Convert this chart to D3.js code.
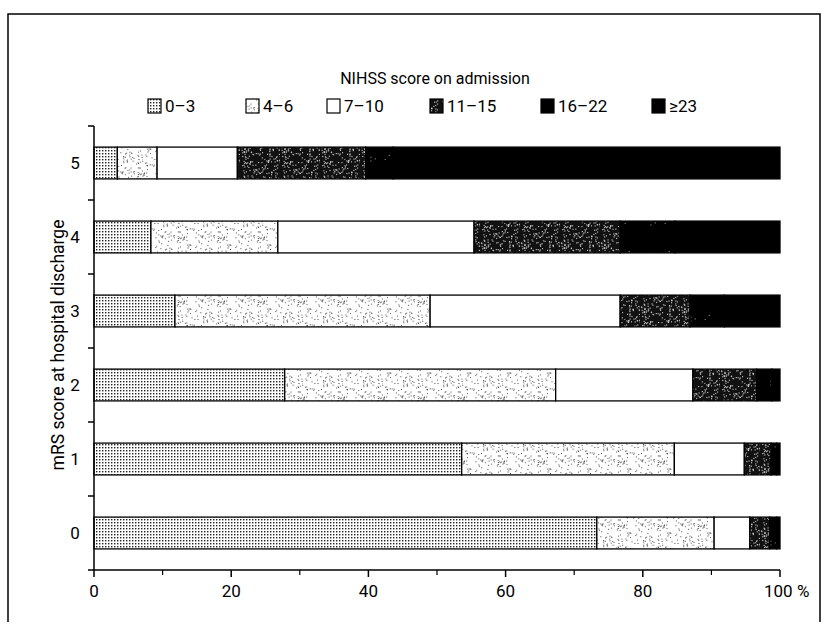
<!DOCTYPE html>
<html><head><meta charset="utf-8">
<script src="https://cdn.jsdelivr.net/npm/d3@7"></script>
<style>
html,body{margin:0;padding:0;background:#fff;}
svg{display:block;font-family:"Liberation Sans Narrow","Roboto","Liberation Sans",Arial,sans-serif;}
</style></head>
<body><svg id="c" width="828" height="630"></svg>
<script>
const categories = ["5","4","3","2","1","0"];
const seriesNames = ["0–3","4–6","7–10","11–15","16–22","≥23"];
const nihss0_3   = [3.4, 8.3, 11.8, 27.8, 53.6, 73.3];
const nihss4_6   = [5.8, 18.5, 37.2, 39.5, 31.0, 17.1];
const nihss7_10  = [11.7, 28.6, 27.7, 20.0, 10.2, 5.2];
const nihss11_15 = [18.7, 21.3, 10.2, 9.3, 3.9, 2.9];
const nihss16_22 = [4.0, 8.0, 5.0, 2.2, 0.8, 1.0];
const nihss23    = [56.4, 15.3, 8.1, 1.2, 0.5, 0.5];
const xTicks = [0,20,40,60,80,100];
const xMinorTicks = [10,30,50,70,90];
const title = "NIHSS score on admission";
const yTitle = "mRS score at hospital discharge";

const series = [nihss0_3, nihss4_6, nihss7_10, nihss11_15, nihss16_22, nihss23];
const svg = d3.select("#c");
const FONT = "Roboto, 'Liberation Sans', Arial, sans-serif";
svg.style("font-family", FONT);

// patterns
const defs = svg.append("defs");
function rng(seed){ let s=seed; return ()=>{ s=(s*9301+49297)%233280; return s/233280; }; }
const p0 = defs.append("pattern").attr("id","p0").attr("width",3).attr("height",3).attr("patternUnits","userSpaceOnUse");
p0.append("rect").attr("width",3).attr("height",3).attr("fill","#fff");
p0.append("rect").attr("width",1.4).attr("height",1.4).attr("fill","#222");
const p1 = defs.append("pattern").attr("id","p1").attr("width",40).attr("height",32).attr("patternUnits","userSpaceOnUse");
p1.append("rect").attr("width",40).attr("height",32).attr("fill","#fff");
{ const r=rng(7); for(let i=0;i<110;i++){ p1.append("rect").attr("x",r()*40).attr("y",r()*32).attr("width",1).attr("height",1).attr("fill","#555"); } }
const p3 = defs.append("pattern").attr("id","p3").attr("width",40).attr("height",32).attr("patternUnits","userSpaceOnUse");
p3.append("rect").attr("width",40).attr("height",32).attr("fill","#111");
{ const r=rng(13); for(let i=0;i<150;i++){ p3.append("rect").attr("x",r()*40).attr("y",r()*32).attr("width",1.1).attr("height",1.1).attr("fill","#ccc"); } }
const p4 = defs.append("pattern").attr("id","p4").attr("width",40).attr("height",32).attr("patternUnits","userSpaceOnUse");
p4.append("rect").attr("width",40).attr("height",32).attr("fill","#000");
{ const r=rng(29); for(let i=0;i<5;i++){ p4.append("rect").attr("x",r()*40).attr("y",r()*32).attr("width",1).attr("height",1).attr("fill","#aaa"); } }
const fills = ["url(#p0)","url(#p1)","#fff","url(#p3)","url(#p4)","#000"];

// frame
svg.append("path").attr("d","M8,622 L8,14 L820,14 L820,622").attr("fill","none").attr("stroke","#000").attr("stroke-width",1.5);

const x = d3.scaleLinear().domain([0,100]).range([94,780]);
const y = d3.scaleBand().domain(categories).range([126,570]).paddingInner(0.57).paddingOuter(0.285);

const rows = categories.map((c,i)=>{ const o={cat:c}; seriesNames.forEach((s,j)=>o[s]=series[j][i]); return o; });
const stack = d3.stack().keys(seriesNames)(rows);

const g = svg.append("g");
stack.forEach((layer,j)=>{
  g.selectAll(null).data(layer).enter().append("rect")
    .attr("x",d=>x(d[0])).attr("y",d=>y(d.data.cat))
    .attr("width",d=>x(d[1])-x(d[0])).attr("height",y.bandwidth())
    .attr("fill",fills[j]).attr("stroke","#000").attr("stroke-width",1.3);
});

// x axis
const xa = svg.append("g").attr("transform","translate(0,570)");
xa.append("line").attr("x1",x(0)).attr("x2",x(100)).attr("stroke","#000").attr("stroke-width",1.5);
xa.selectAll(".mj").data(xTicks).enter().append("line")
  .attr("x1",d=>x(d)).attr("x2",d=>x(d)).attr("y1",0).attr("y2",7).attr("stroke","#000").attr("stroke-width",1.5);
xa.selectAll(".mn").data(xMinorTicks).enter().append("line")
  .attr("x1",d=>x(d)).attr("x2",d=>x(d)).attr("y1",0).attr("y2",5).attr("stroke","#000").attr("stroke-width",1.2);
xa.selectAll(".tl").data(xTicks).enter().append("text")
  .attr("x",d=>x(d)).attr("y",27).attr("text-anchor",d=>d===100?"start":"middle")
  .attr("dx",d=>d===100?-16:0)
  .attr("font-size",17).text(d=>d===100?"100 %":d);

// y axis
const ya = svg.append("g");
ya.append("line").attr("x1",x(0)).attr("x2",x(0)).attr("y1",126).attr("y2",570).attr("stroke","#000").attr("stroke-width",1.5);
const bounds = categories.map(c=>y(c)-(y.step()-y.bandwidth())/2).concat([570]);
ya.selectAll(".yt").data(bounds).enter().append("line")
  .attr("x1",x(0)-6).attr("x2",x(0)).attr("y1",d=>d).attr("y2",d=>d).attr("stroke","#000").attr("stroke-width",1.5);
ya.selectAll(".yl").data(categories).enter().append("text")
  .attr("x",75).attr("y",d=>y(d)+y.bandwidth()/2+6).attr("text-anchor","middle")
  .attr("font-size",17).text(d=>d);
svg.append("text").attr("transform","translate(64,345) rotate(-90)").attr("text-anchor","middle")
  .attr("font-size",17.5).text(yTitle);

// title & legend
svg.append("text").attr("x",435).attr("y",84).attr("text-anchor","middle").attr("font-size",16).text(title);
const legX = [148,246,327,430,541,652];
const lg = svg.append("g");
seriesNames.forEach((s,j)=>{
  lg.append("rect").attr("x",legX[j]).attr("y",99).attr("width",13).attr("height",14)
    .attr("fill",fills[j]).attr("stroke","#000").attr("stroke-width",1.2);
  lg.append("text").attr("x",legX[j]+17).attr("y",112).attr("font-size",17).text(s);
});
</script></body></html>
